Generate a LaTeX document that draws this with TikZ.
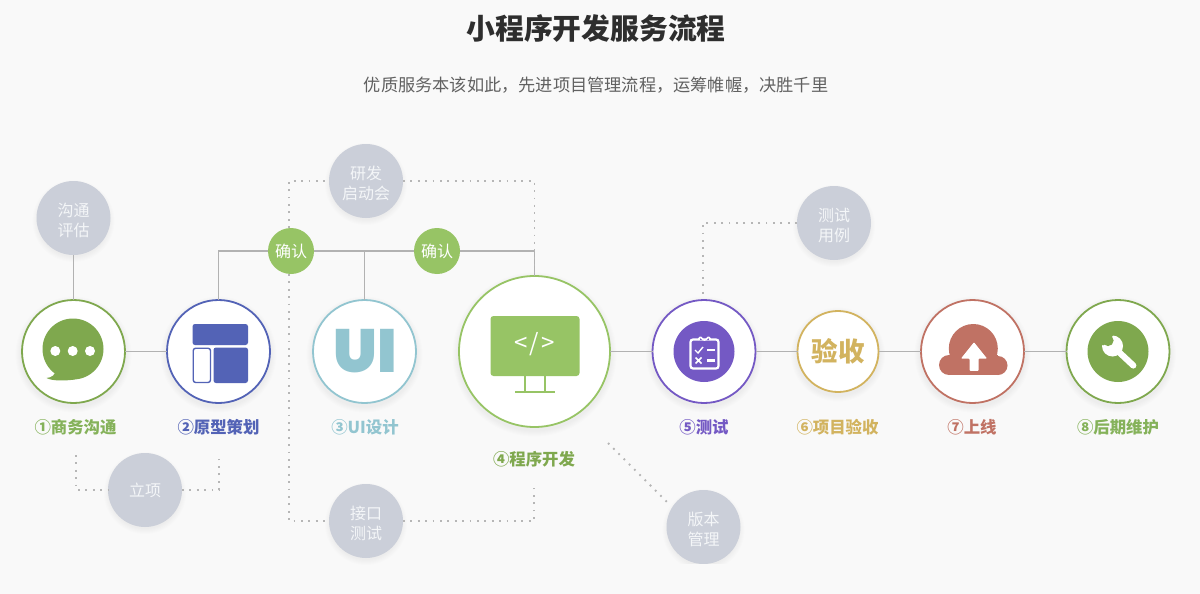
\documentclass[tikz,border=0pt]{standalone}
\usepackage{fontspec}
\setmainfont{Noto Sans CJK SC}
\newfontfamily\uifont[UprightFont={* Black}]{Poppins}
\definecolor{bgc}{HTML}{F9F9F9}
\definecolor{greyc}{HTML}{CBCFD9}
\definecolor{greyt}{HTML}{F4F6F8}
\definecolor{linec}{HTML}{B2B2B2}
\definecolor{dotc}{HTML}{B6B6B6}
\definecolor{cga}{HTML}{7FA84E}
\definecolor{cgl}{HTML}{85B25A}
\definecolor{cgb}{HTML}{97C465}
\definecolor{cbl}{HTML}{5363B6}
\definecolor{ccy}{HTML}{92C5D0}
\definecolor{cpu}{HTML}{7459C4}
\definecolor{cye}{HTML}{D2B35F}
\definecolor{cre}{HTML}{C07264}
\newcommand{\gs}{\rule{0pt}{18pt}}
\tikzset{
  x=1pt,y=-1pt,
  stage/.style={circle,draw=#1,fill=white,line width=1.8pt,inner sep=0pt,outer sep=0pt,minimum size=103pt},
  bigstage/.style={stage=#1,minimum size=151pt},
  midstage/.style={stage=#1,minimum size=81pt},
  grey/.style={circle,fill=greyc,inner sep=0pt,outer sep=0pt,minimum size=74pt,text=greyt,align=center,font=\fontsize{16}{19.5}\selectfont},
  confirm/.style={circle,fill=cgb,inner sep=0pt,outer sep=0pt,minimum size=46pt,text=white,font=\fontsize{16}{20}\selectfont},
  lab/.style={text=#1,font=\fontsize{16.4}{20}\selectfont\bfseries,inner sep=0pt},
  solidl/.style={draw=linec,line width=1.7pt},
  dotl/.style={draw=dotc,line width=1.8pt,dash pattern=on 1.8pt off 5.6pt}
}
\newcommand{\softshadow}[3]{%
  \foreach \k in {0,1,...,5}{\fill[black,opacity=0.009] (#1,#2+3) circle[radius=#3+6-\k];}}
\begin{document}
\begin{tikzpicture}
\useasboundingbox (0,0) rectangle (1200,594);
\fill[bgc] (0,0) rectangle (1200,594);
% shadows
\softshadow{73.5}{351.5}{52}
\softshadow{218.5}{351.5}{52}
\softshadow{364.5}{351.5}{52}
\softshadow{534.5}{351.5}{76}
\softshadow{704}{351.5}{52}
\softshadow{838}{351.5}{41}
\softshadow{972.5}{351.5}{52}
\softshadow{1118}{351.5}{52}
\softshadow{73.5}{218}{35}
\softshadow{366}{181}{35}
\softshadow{834}{223}{35}
\softshadow{145}{490}{35}
\softshadow{366}{521}{35}
\softshadow{703.5}{527}{35}
% title
\node[inner sep=0pt,text=black!82,font=\fontsize{28.8}{34}\selectfont\bfseries] (title) at (596,28) {小程序开发服务流程};
\node[inner sep=0pt,text=black!62,font=\fontsize{17.2}{22}\selectfont] (sub) at (596,85) {优质服务本该如此，先进项目管理流程，运筹帷幄，决胜千里};
% stages
\node[stage=cga] (s1) at (73.5,351.5) {};
\node[stage=cbl] (s2) at (218.5,351.5) {};
\node[stage=ccy] (s3) at (364.5,351.5) {};
\node[bigstage=cgb] (s4) at (534.5,351.5) {};
\node[stage=cpu] (s5) at (704,351.5) {};
\node[midstage=cye,text=cye,font=\fontsize{26.5}{30}\selectfont\bfseries] (s6) at (838,351.5) {验收};
\node[stage=cre] (s7) at (972.5,351.5) {};
\node[stage=cga] (s8) at (1118,351.5) {};
% grey bubbles
\node[grey] (g1) at (73.5,218) {\gs 沟通\\评估};
\node[grey] (g2) at (366,181) {\gs 研发\\启动会};
\node[grey] (g3) at (834,223) {\gs 测试\\用例};
\node[grey,font=\fontsize{16}{20}\selectfont] (g4) at (145,490) {立项};
\node[grey] (g5) at (366,521) {\gs 接口\\测试};
\node[grey] (g6) at (703.5,527) {\gs 版本\\管理};
\fill[bgc] (650,564) rectangle (760,594);
\node[confirm] (c1) at (291,251) {确认};
\node[confirm] (c2) at (437,251) {确认};
% free connector ends
\coordinate (d1) at (76,455);
\coordinate (d2) at (219,455);
\coordinate (d3) at (534,488);
\coordinate (d4) at (608,443);
\coordinate (d5) at (670,505);
\coordinate (d6) at (703,298);
% solid connectors
\draw[solidl] (g1) -- (s1);
\draw[solidl] (s1) -- (s2);
\draw[solidl] (s2.north) |- (c1.west);
\draw[solidl] (c1) -- (c2);
\draw[solidl] (s3.north) -- (s3.north |- c1);
\draw[solidl] (c2.east) -| (s4.north);
\draw[solidl] (s4) -- (s5);
\draw[solidl] (s5) -- (s6);
\draw[solidl] (s6) -- (s7);
\draw[solidl] (s7) -- (s8);
% dotted connectors
\draw[dotl] (c1.north -| 289,0) |- (g2.west);
\draw[dotl] (g2.east) -| (s4.north);
\draw[dotl] (c1.south -| 289,0) |- (g5.west);
\draw[dotl] (g5.east) -| (d3);
\draw[dotl] (d1) |- (g4.west);
\draw[dotl] (g4.east) -| (d2);
\draw[dotl] (g3.west) -| (d6);
\draw[dotl] (d4) -- (d5);
% labels
\node[lab=cgl] (l1) at (75.5,427) {①商务沟通};
\node[lab=cbl] (l2) at (218.5,427) {②原型策划};
\node[lab=ccy] (l3) at (365,427) {③UI设计};
\node[lab=cga] (l4) at (534,459) {④程序开发};
\node[lab=cpu] (l5) at (704,427) {⑤测试};
\node[lab=cye] (l6) at (837.5,427) {⑥项目验收};
\node[lab=cre] (l7) at (972,427) {⑦上线};
\node[lab=cgl] (l8) at (1118,427) {⑧后期维护};
% icon 1: speech bubble
\fill[cga] (73,349) ellipse[x radius=30.5,y radius=30.5];
\fill[cga] (46.5,378) .. controls (52,377.5) and (55,375) .. (56,370) -- (75,379.5) .. controls (64,381) and (52,381) .. (46.5,378) -- cycle;
\foreach \xx in {55.3,72.7,90}{\fill[white] (\xx,351) circle[radius=5];}
% icon 2: layout
\fill[cbl,rounded corners=2.5pt] (192.5,324) rectangle (248,345);
\fill[cbl,rounded corners=2.5pt] (213.5,347.5) rectangle (248,383);
\draw[cbl,line width=1.4pt,rounded corners=2.5pt] (193.2,348.2) rectangle (210.5,382.5);
% icon 3: UI
\node[inner sep=0pt,text=ccy,font=\uifont\fontsize{61}{61}\selectfont] (ui) at (365,351) {UI};
% icon 4: monitor
\fill[cgb,rounded corners=3pt] (490.5,316) rectangle (579.5,376);
\draw[cgb,line width=2pt] (525,376) -- (525,392) (545,376) -- (545,392);
\draw[cgb,line width=2pt] (515,392) -- (555,392);
\node[inner sep=0pt,text=white,font=\fontsize{24}{24}\selectfont] (code) at (534.5,344.5) {<\kern2pt/\kern2pt>};
% icon 5: clipboard
\fill[cpu] (704,351.5) circle[radius=30.5];
\draw[white,line width=2.2pt,rounded corners=2.5pt] (690.5,339.5) rectangle (718.5,368.5);
\draw[white,line width=1.6pt,fill=cpu,rounded corners=1pt] (699,340) -- (699,337.5) -- (702,337.5) arc[start angle=180,end angle=0,radius=2.5] -- (710,337.5) -- (710,340);
\draw[white,line width=1.4pt] (695,350) -- (698,353) -- (703,347);
\draw[white,line width=2.2pt] (707,350) -- (715,350);
\draw[white,line width=1.5pt] (695.5,357.5) -- (701.5,363.5) (701.5,357.5) -- (695.5,363.5);
\draw[white,line width=2.2pt] (707,360.5) -- (715,360.5);
% icon 7: cloud
\fill[cre] (973.3,348.5) circle[radius=24.5];
\fill[cre] (949,365) circle[radius=10];
\fill[cre] (998,365.5) circle[radius=9.5];
\fill[cre] (949,355) rectangle (998,375);
\fill[white,rounded corners=0.8pt] (974,342.3) -- (987,358.5) -- (978.5,358.5) -- (978.5,370.8) -- (969.5,370.8) -- (969.5,358.5) -- (961,358.5) -- cycle;
% icon 8: wrench
\fill[cga] (1118,351.5) circle[radius=30.5];
\draw[white,line width=6.2pt,line cap=round] (1113.5,347) -- (1133.3,365.5);
\fill[white] (1112.5,346) circle[radius=10.5];
\fill[cga] (1108,340.5) circle[radius=5.6];
\fill[cga] (1103,345.5) -- (1112.9,335.6) -- (1106,328) -- (1095,340) -- cycle;
\end{tikzpicture}
\end{document}
